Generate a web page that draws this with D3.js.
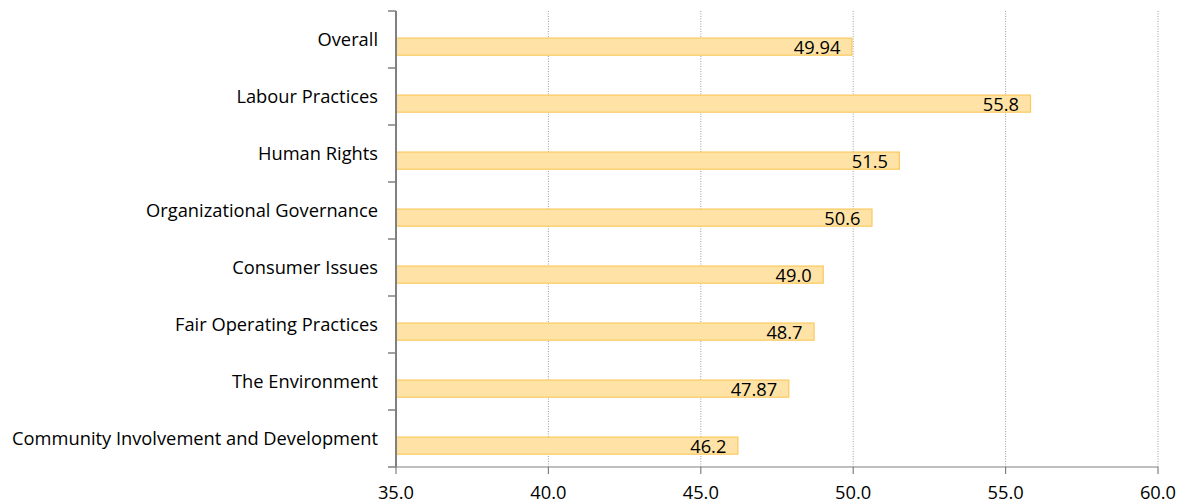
<!DOCTYPE html>
<html><head><meta charset="utf-8">
<script src="https://cdn.jsdelivr.net/npm/d3@7"></script>
<style>body{margin:0;background:#fff}svg{display:block}text{font-family:"Open Sans","Noto Sans",sans-serif}</style>
</head><body><svg id="c" width="1182" height="503"></svg>
<script>
const categories = ["Overall","Labour Practices","Human Rights","Organizational Governance","Consumer Issues","Fair Operating Practices","The Environment","Community Involvement and Development"];
const values = [49.94,55.8,51.5,50.6,49.0,48.7,47.87,46.2];
const valueLabels = ["49.94","55.8","51.5","50.6","49.0","48.7","47.87","46.2"];
const xTicks = [35,40,45,50,55,60];

const svg = d3.select("#c");
const m = {l:396, r:1182-1158, t:11, b:503-467};
const W = 1182, H = 503;
const x = d3.scaleLinear().domain([35,60]).range([m.l, W-m.r]);
const y = d3.scaleBand().domain(categories).range([m.t, H-m.b]).paddingInner(0).paddingOuter(0);
const FS = 18.3;

// gridlines
svg.append("g").selectAll("line").data(xTicks.slice(1)).join("line")
  .attr("x1",d=>x(d)).attr("x2",d=>x(d)).attr("y1",m.t).attr("y2",H-m.b)
  .attr("stroke","#a0a0a0").attr("stroke-width",1).attr("stroke-dasharray","1,1.5");

// bars
const bw = y.bandwidth();
svg.append("g").selectAll("rect").data(categories).join("rect")
  .attr("x",x(35)+0.5).attr("y",d=>y(d)+bw*0.475)
  .attr("width",(d,i)=>x(values[i])-x(35)).attr("height",bw*0.3)
  .attr("fill","#FFE3A6").attr("stroke","#FAC95E").attr("stroke-width",1.2);

// value labels
svg.append("g").selectAll("text").data(categories).join("text")
  .attr("x",(d,i)=>x(values[i])-11).attr("y",d=>y(d)+bw*0.625+7)
  .attr("text-anchor","end").attr("font-size",FS).attr("fill","#000")
  .text((d,i)=>valueLabels[i]);

// y axis
const ya = svg.append("g").attr("transform",`translate(${m.l},0)`);
ya.append("line").attr("x1",0).attr("x2",0).attr("y1",m.t).attr("y2",H-m.b).attr("stroke","#808080").attr("stroke-width",2);
const yb = categories.map(c=>y(c)).concat([y(categories[categories.length-1])+bw]);
ya.selectAll("line.t").data(yb).join("line").attr("class","t")
  .attr("x1",-8).attr("x2",0).attr("y1",d=>d).attr("y2",d=>d).attr("stroke","#808080").attr("stroke-width",1.5);
ya.selectAll("text").data(categories).join("text")
  .attr("x",-18).attr("y",d=>y(d)+bw*0.5+6.5).attr("text-anchor","end")
  .attr("font-size",FS).attr("fill","#000").text(d=>d);

// x axis
const xa = svg.append("g").attr("transform",`translate(0,${H-m.b})`);
xa.append("line").attr("x1",x(35)).attr("x2",x(60)).attr("stroke","#808080").attr("stroke-width",1.2);
xa.selectAll("line.t").data(xTicks).join("line").attr("class","t")
  .attr("x1",d=>x(d)).attr("x2",d=>x(d)).attr("y1",0).attr("y2",7).attr("stroke","#808080").attr("stroke-width",1.2);
xa.selectAll("text").data(xTicks).join("text")
  .attr("x",d=>x(d)).attr("y",32).attr("text-anchor","middle")
  .attr("font-size",FS).attr("fill","#000").text(d=>d3.format(".1f")(d));
</script></body></html>
